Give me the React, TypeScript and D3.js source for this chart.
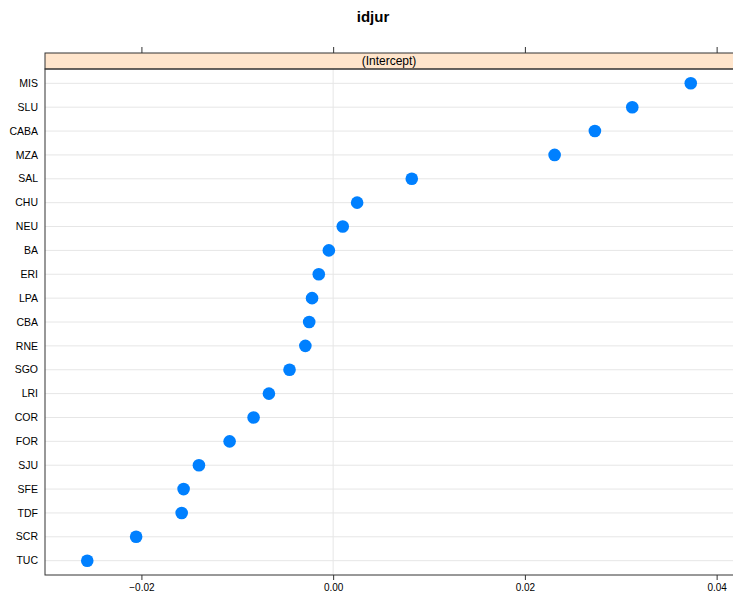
import React, { useEffect, useRef } from "react";
import * as d3 from "d3";

// jurisdictions, top to bottom
const jur = ["MIS", "SLU", "CABA", "MZA", "SAL", "CHU", "NEU", "BA", "ERI", "LPA", "CBA", "RNE", "SGO", "LRI", "COR", "FOR", "SJU", "SFE", "TDF", "SCR", "TUC"];
const intercept = [0.0373, 0.0312, 0.0273, 0.0231, 0.0082, 0.0025, 0.001, -0.00045, -0.0015, -0.0022, -0.0025, -0.0029, -0.00455, -0.0067, -0.0083, -0.0108, -0.0140, -0.0156, -0.0158, -0.02055, -0.02565];
const xTicks = [-0.02, 0, 0.02, 0.04];

const App: React.FC = () => {
  const svgRef = useRef<SVGSVGElement | null>(null);

  useEffect(() => {
    const svg = d3.select(svgRef.current);
    svg.selectAll("*").remove();

    const w = 733;
    const h = 602;
    const m = { top: 53, right: 0, bottom: 27, left: 45 };
    const stripH = 16;
    const font = "Liberation Sans, Arial, sans-serif";

    const ext = d3.extent(intercept) as [number, number];
    const pad = (ext[1] - ext[0]) * 0.07;
    const x = d3.scaleLinear().domain([ext[0] - pad, ext[1] + pad]).range([m.left, w - m.right]);

    const panelTop = m.top + stripH;
    const panelBot = h - m.bottom;
    const y = d3.scaleLinear().domain([0.4, jur.length + 0.6]).range([panelTop, panelBot]);

    svg.attr("width", w).attr("height", h).style("background", "#fff");

    // title
    svg.append("text")
      .attr("x", (m.left + w) / 2 - 16)
      .attr("y", 22)
      .attr("text-anchor", "middle")
      .style("font-family", font)
      .style("font-weight", "bold")
      .style("font-size", "15px")
      .text("idjur");

    // grid lines
    svg.append("g")
      .selectAll("line")
      .data(jur)
      .enter()
      .append("line")
      .attr("x1", m.left)
      .attr("x2", w)
      .attr("y1", (_, i) => y(i + 1))
      .attr("y2", (_, i) => y(i + 1))
      .attr("stroke", "#e6e6e6")
      .attr("stroke-width", 1);

    svg.append("line")
      .attr("x1", x(0)).attr("x2", x(0))
      .attr("y1", panelTop).attr("y2", panelBot)
      .attr("stroke", "#e6e6e6");

    // strip
    svg.append("rect")
      .attr("x", m.left).attr("y", m.top)
      .attr("width", w - m.left + 2).attr("height", stripH)
      .attr("fill", "#ffe5cc")
      .attr("stroke", "#333").attr("stroke-width", 1);
    svg.append("text")
      .attr("x", (m.left + w) / 2)
      .attr("y", m.top + 12)
      .attr("text-anchor", "middle")
      .style("font-family", font)
      .style("font-size", "12px")
      .text("(Intercept)");

    // panel border
    svg.append("rect")
      .attr("x", m.left).attr("y", panelTop)
      .attr("width", w - m.left + 2).attr("height", panelBot - panelTop)
      .attr("fill", "none")
      .attr("stroke", "#333").attr("stroke-width", 1);

    // axes
    const bottom = svg.append("g")
      .attr("transform", `translate(0, ${panelBot})`)
      .call(d3.axisBottom(x).tickValues(xTicks).tickSize(5).tickPadding(4)
        .tickFormat(d => (+d === 0 ? "0.00" : d3.format(".2f")(+d).replace("-", "\u2212"))));
    bottom.select(".domain").remove();
    bottom.selectAll("text").style("font-family", font).style("font-size", "10px").attr("fill", "#000");
    bottom.selectAll("line").attr("stroke", "#333");

    const top = svg.append("g")
      .attr("transform", `translate(0, ${m.top})`)
      .call(d3.axisTop(x).tickValues(xTicks).tickSize(6).tickFormat(() => ""));
    top.select(".domain").remove();
    top.selectAll("line").attr("stroke", "#333");

    svg.append("g")
      .selectAll("text")
      .data(jur)
      .enter()
      .append("text")
      .attr("x", m.left - 7)
      .attr("y", (_, i) => y(i + 1))
      .attr("dy", "0.35em")
      .attr("text-anchor", "end")
      .style("font-family", font)
      .style("font-size", "10.5px")
      .text(d => d);

    // points
    svg.append("g")
      .selectAll("circle")
      .data(intercept)
      .enter()
      .append("circle")
      .attr("cx", d => x(d))
      .attr("cy", (_, i) => y(i + 1))
      .attr("r", 6.3)
      .attr("fill", "#0080ff");
  }, []);

  return (
    <div style={{ position: "fixed", top: 0, left: 0 }}>
      <svg ref={svgRef} style={{ display: "block" }}></svg>
    </div>
  );
};

export default App;
